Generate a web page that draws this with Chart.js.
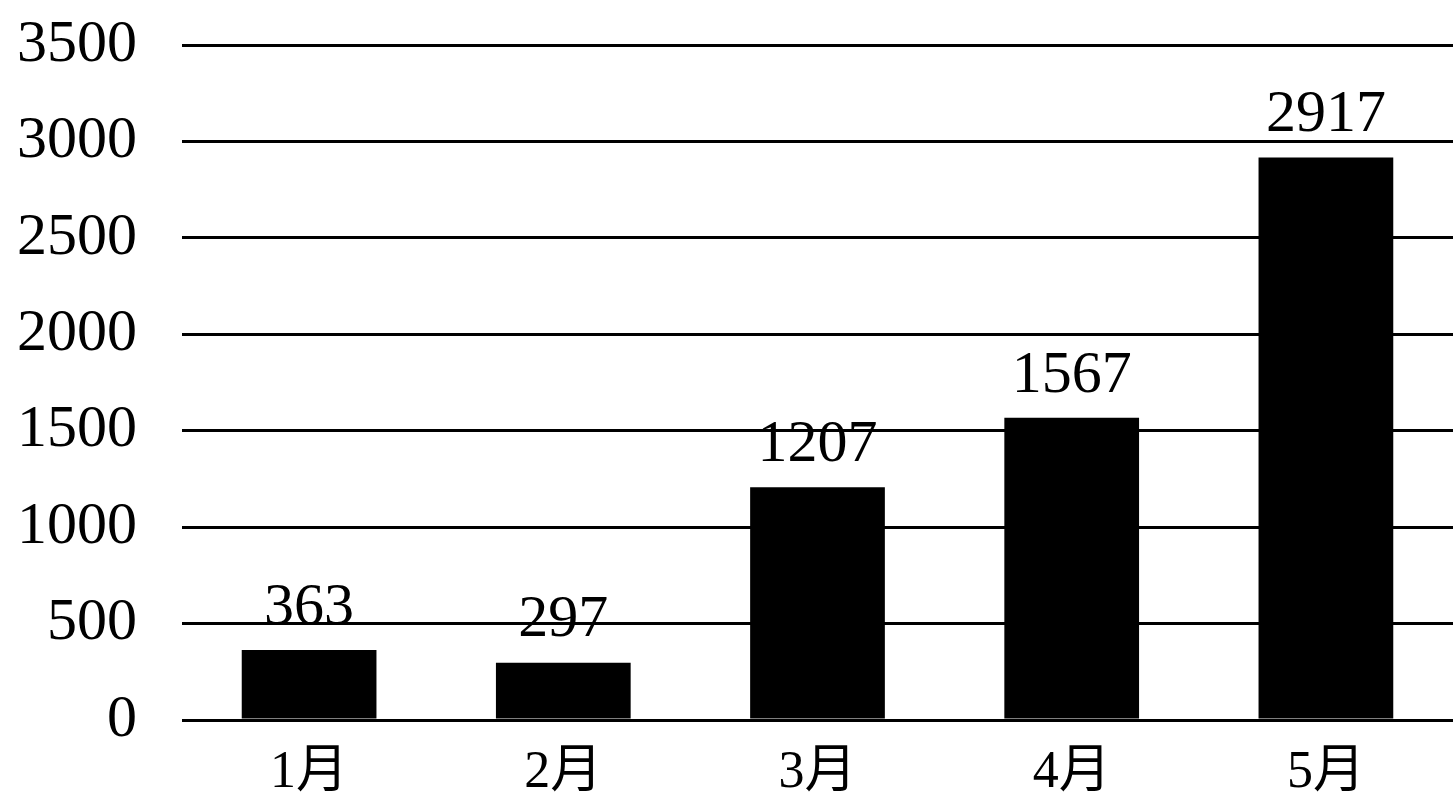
<!DOCTYPE html>
<html>
<head>
<meta charset="utf-8">
<title>月度柱状图</title>
<script src="https://cdn.jsdelivr.net/npm/chart.js@4/dist/chart.umd.min.js"></script>
<style>
  html, body { margin: 0; padding: 0; background: #fff; }
  #wrap { width: 1453px; height: 805px; position: relative; }
</style>
</head>
<body>
<div id="wrap"><canvas id="chart"></canvas></div>
<script>
//-----------------------------------------------------------------------------
// data
//-----------------------------------------------------------------------------
var months = ['1月', '2月', '3月', '4月', '5月'];
var amounts = [363, 297, 1207, 1567, 2917];
var yTicks = [0, 500, 1000, 1500, 2000, 2500, 3000, 3500];

var serif = '"Liberation Serif", "Times New Roman", "Noto Sans CJK SC", serif';

// draws the value above every bar
var valueLabels = {
  id: 'valueLabels',
  afterDatasetsDraw: function(chart) {
    var ctx = chart.ctx;
    ctx.save();
    ctx.fillStyle = '#000';
    ctx.font = '60px ' + serif;
    ctx.textAlign = 'center';
    ctx.textBaseline = 'bottom';
    chart.getDatasetMeta(0).data.forEach(function(bar, i) {
      ctx.fillText(String(amounts[i]), bar.x, bar.y - 12);
    });
    ctx.restore();
  }
};

new Chart(document.getElementById('chart'), {
  type: 'bar',
  data: {
    labels: months,
    datasets: [{
      data: amounts,
      backgroundColor: '#000',
      borderWidth: 0,
      barPercentage: 0.53,
      categoryPercentage: 1
    }]
  },
  options: {
    responsive: true,
    maintainAspectRatio: false,
    animation: false,
    layout: { padding: { top: 45, right: 0, left: 0, bottom: 0 } },
    plugins: {
      legend: { display: false },
      tooltip: { enabled: false }
    },
    scales: {
      x: {
        grid: { display: false, drawTicks: false },
        border: { display: false },
        ticks: {
          color: '#000',
          padding: 22,
          font: { family: serif, size: 52 }
        },
        afterFit: function(scale) { scale.height = 85; }
      },
      y: {
        min: 0,
        max: 3500,
        afterBuildTicks: function(scale) {
          scale.ticks = yTicks.map(function(v) { return { value: v }; });
        },
        grid: { color: '#000', lineWidth: 3, drawTicks: false },
        border: { display: false },
        ticks: {
          color: '#000',
          padding: 45,
          font: { family: serif, size: 60 },
          callback: function(v) { return String(v); }
        },
        // fixed axis width, and no extra room kept for the top label
        afterFit: function(scale) {
          scale.width = 182;
          scale.paddingTop = 0;
          scale.paddingBottom = 0;
        }
      }
    }
  },
  plugins: [valueLabels]
});
</script>
</body>
</html>
